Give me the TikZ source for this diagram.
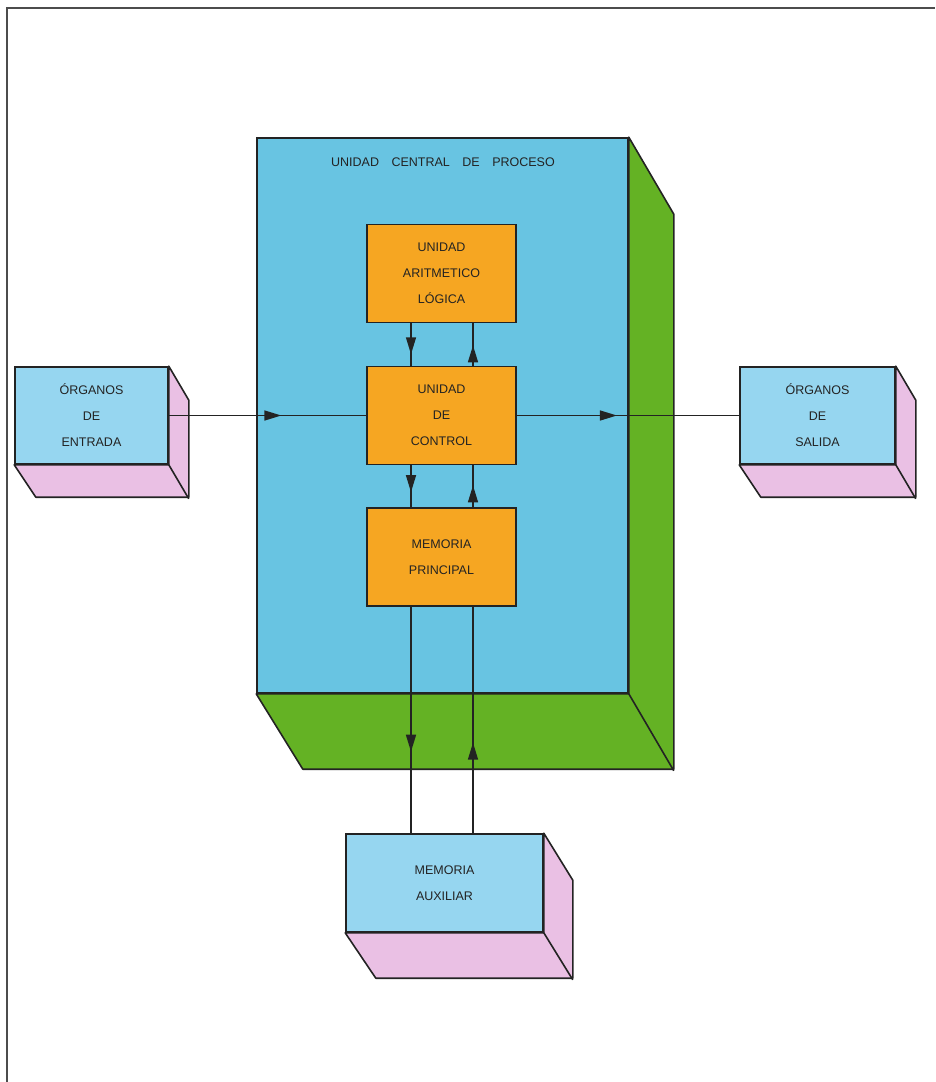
\documentclass[tikz,border=0pt]{standalone}
\usepackage{fontspec}
\setmainfont{Liberation Sans}
\usetikzlibrary{arrows.meta,decorations.markings}
\definecolor{cpublue}{RGB}{104,196,226}
\definecolor{boxblue}{RGB}{150,214,240}
\definecolor{sidepink}{RGB}{234,192,228}
\definecolor{cpugreen}{RGB}{100,178,36}
\definecolor{unitorange}{RGB}{246,166,34}
\definecolor{ink}{RGB}{35,35,35}
\begin{document}
\begin{tikzpicture}[x=1pt,y=-1pt,
		boxtext/.style={font=\fontsize{12.5}{26}\selectfont,align=center,text=ink},
		front/.style={draw=ink,line width=1.6pt,fill=boxblue,inner sep=0pt,boxtext},
		side/.style={draw=ink,line width=1.6pt,line join=round,fill=sidepink},
		unit/.style={draw=ink,line width=1.6pt,fill=unitorange,minimum width=149pt,minimum height=98pt,inner sep=0pt,boxtext},
		link/.style={draw=ink,line width=1.5pt,postaction={decorate},
			decoration={markings,mark=at position #1 with {\arrow{Triangle[length=17pt,width=10pt]}}}}]
		\useasboundingbox (0,0) rectangle (935,1082);
		% frame
		\draw[gray!60!black,line width=1.5pt] (7,1082) -- (7,8) -- (935,8);
		% unidad central
		\node[draw=ink,line width=1.6pt,fill=cpublue,minimum width=371pt,minimum height=555pt,inner sep=0pt] (cpu) at (442.5,415.5) {};
		\filldraw[draw=ink,line width=1.6pt,line join=round,fill=cpugreen] (cpu.north east) -- ++(45,77) -- ++(0,555)
			-- ++(-371,0) -- (cpu.south west) -- (cpu.south east) -- cycle;
		\draw[ink,line width=1.6pt] (cpu.south east) -- ++(45,77);
		\node[boxtext] (cputitle) at (443,162) {UNIDAD\quad CENTRAL\quad DE\quad PROCESO};
		\node[unit] (alu) at (441.5,273.5) {UNIDAD\\ARITMETICO\\LÓGICA};
		\node[unit] (control) at (441.5,415.5) {UNIDAD\\DE\\CONTROL};
		\node[unit] (mainmem) at (441.5,557) {MEMORIA\\PRINCIPAL};
		% entrada
		\node[front,minimum width=153pt,minimum height=97pt] (inp) at (91.5,415.5) {ÓRGANOS\\DE\\ENTRADA};
		\filldraw[side] (inp.north east) -- ++(20,34) -- ++(0,97) -- ++(-153,0) -- (inp.south west) -- (inp.south east) -- cycle;
		\draw[side] (inp.south east) -- ++(20,34);
		% salida
		\node[front,minimum width=155pt,minimum height=97pt] (outp) at (817.5,415.5) {ÓRGANOS\\DE\\SALIDA};
		\filldraw[side] (outp.north east) -- ++(20,34) -- ++(0,97) -- ++(-155,0) -- (outp.south west) -- (outp.south east) -- cycle;
		\draw[side] (outp.south east) -- ++(20,34);
		% auxiliar
		\node[front,minimum width=197pt,minimum height=98pt] (aux) at (444.5,883) {MEMORIA\\AUXILIAR};
		\filldraw[side] (aux.north east) -- ++(29,47) -- ++(0,98) -- ++(-197,0) -- (aux.south west) -- (aux.south east) -- cycle;
		\draw[side] (aux.south east) -- ++(29,47);
		% conexiones
		\draw[link=0.57] (inp.east) -- (control.west);
		\draw[link=0.45] (control.east) -- (outp.west);
		\draw[link=0.73] ([xshift=-30.5pt]alu.south) -- ([xshift=-30.5pt]control.north);
		\draw[link=0.48] ([xshift=31.5pt]control.north) -- ([xshift=31.5pt]alu.south);
		\draw[link=0.64] ([xshift=-30.5pt]control.south) -- ([xshift=-30.5pt]mainmem.north);
		\draw[link=0.52] ([xshift=31.5pt]mainmem.north) -- ([xshift=31.5pt]control.south);
		\draw[link=0.64] ([xshift=-30.5pt]mainmem.south) -- ([xshift=-30.5pt]mainmem.south |- aux.north);
		\draw[link=0.40] ([xshift=31.5pt]mainmem.south |- aux.north) -- ([xshift=31.5pt]mainmem.south);
	\end{tikzpicture}
\end{document}
